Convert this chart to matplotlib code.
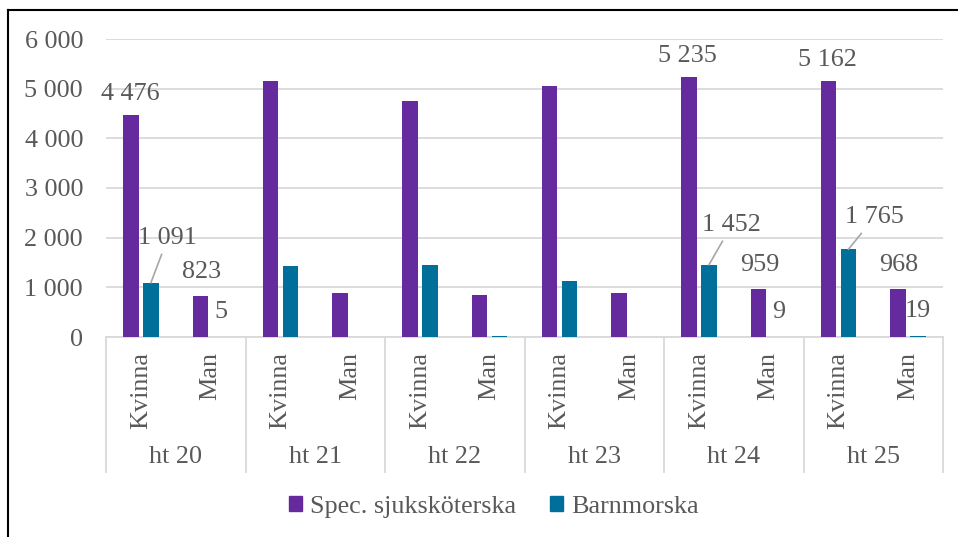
import matplotlib.pyplot as plt
from matplotlib.lines import Line2D
from matplotlib.patches import Patch

### Data
terms = ['ht 20', 'ht 21', 'ht 22', 'ht 23', 'ht 24', 'ht 25']
sexes = ['Kvinna', 'Man']
spec_kvinna = [4476, 5160, 4760, 5055, 5235, 5162]
spec_man = [823, 890, 845, 885, 959, 968]
barn_kvinna = [1091, 1420, 1457, 1135, 1452, 1765]
barn_man = [5, 4, 12, 8, 9, 19]
labelled_terms = ['ht 20', 'ht 24', 'ht 25']
yticks = [0, 1000, 2000, 3000, 4000, 5000, 6000]

### Style
purple = '#652A9E'
teal = '#00709A'
grid_col = '#D9D9D9'
text_col = '#595959'
fs = 18.8
plt.rcParams['font.family'] = ['Liberation Serif', 'DejaVu Serif']

fig = plt.figure(figsize=(9.58, 5.37), dpi=100)
ax = fig.add_axes([106/958, 1-337/537, (943-106)/958, 298/537])

# interleave Kvinna/Man per term into 12 category slots
spec = []
barn = []
for i in range(len(terms)):
    spec += [spec_kvinna[i], spec_man[i]]
    barn += [barn_kvinna[i], barn_man[i]]
xs = list(range(len(spec)))

bw = 0.225
off = 0.1435
ax.bar([x - off for x in xs], spec, width=bw, color=purple, zorder=3)
ax.bar([x + off for x in xs], barn, width=bw, color=teal, zorder=3)

ax.set_xlim(-0.5, len(xs) - 0.5)
ax.set_ylim(0, 6000)
ax.set_yticks(yticks)
ax.set_yticklabels([f'{v:,}'.replace(',', ' ') for v in yticks])
ax.tick_params(axis='y', length=0, pad=16.5, labelsize=fs, labelcolor=text_col)
ax.set_xticks([])
ax.grid(axis='y', color=grid_col, linewidth=1.3, zorder=0)
for s in ['top', 'right', 'left']:
    ax.spines[s].set_visible(False)
ax.spines['bottom'].set_color(grid_col)
ax.spines['bottom'].set_linewidth(1.3)

# two-level category axis
trans = ax.get_xaxis_transform()
ax_h = 298.0
for k in range(len(terms) + 1):
    ax.add_line(Line2D([2*k - 0.5, 2*k - 0.5], [0, -(472-337)/ax_h], transform=trans,
                       color=grid_col, linewidth=1.3, clip_on=False))
for i, t in enumerate(terms):
    for j, s in enumerate(sexes):
        ax.text(2*i + j, -15/ax_h, s, transform=trans, rotation=90, ha='center', va='top',
                fontsize=fs, color=text_col)
    ax.text(2*i + 0.5, -(457-337)/ax_h, t, transform=trans, ha='center', va='center',
            fontsize=fs, color=text_col)

# data labels
def fmt(v):
    return f'{v:,}'.replace(',', ' ')

barn_kv_offsets = {'ht 20': (17, 45), 'ht 24': (23, 40), 'ht 25': (26, 32)}
for t in labelled_terms:
    i = terms.index(t)
    xk = 2*i
    xm = 2*i + 1
    ax.annotate(fmt(spec_kvinna[i]), (xk - off, spec_kvinna[i]), xytext=(-1, 21),
                textcoords='offset pixels', ha='center', va='center', fontsize=fs, color=text_col)
    ax.annotate(fmt(spec_man[i]), (xm - off, spec_man[i]), xytext=(1, 24),
                textcoords='offset pixels', ha='center', va='center', fontsize=fs, color=text_col)
    ax.annotate(fmt(barn_man[i]), (xm + off, barn_man[i]), xytext=(0, 25),
                textcoords='offset pixels', ha='center', va='center', fontsize=fs, color=text_col)
    dx, dy = barn_kv_offsets[t]
    ax.annotate(fmt(barn_kvinna[i]), (xk + off, barn_kvinna[i]), xytext=(dx, dy),
                textcoords='offset pixels', ha='center', va='center', fontsize=fs, color=text_col,
                arrowprops=dict(arrowstyle='-', color='#A6A6A6', lw=1.2, shrinkA=2, shrinkB=0))

# legend
handles = [Patch(color=purple, label='Spec. sjuksköterska'), Patch(color=teal, label='Barnmorska')]
fig.legend(handles=handles, loc='center', bbox_to_anchor=(494/958, 1-507/537), ncol=2,
           frameon=False, fontsize=fs, labelcolor=text_col, handlelength=0.5, handleheight=0.5,
           handletextpad=0.3, columnspacing=1.3)

# outer frame (top and left only visible)
fig.add_artist(Line2D([8/958, 1], [1-10/537, 1-10/537], color='black', linewidth=1.5))
fig.add_artist(Line2D([8/958, 8/958], [0, 1-10/537], color='black', linewidth=1.5))

fig.savefig('out.png', dpi=100)
